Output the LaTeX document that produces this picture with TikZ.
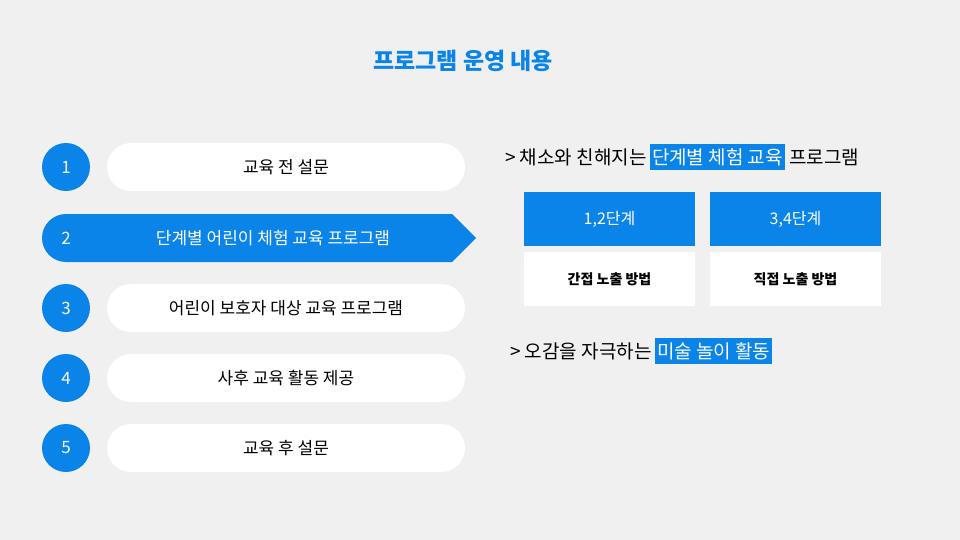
\documentclass[tikz,border=0pt]{standalone}
\usepackage{fontspec}
\setmainfont{Noto Sans CJK KR}
\definecolor{bl}{HTML}{0A84E8}
\definecolor{bg}{HTML}{F0F0F0}
\tikzset{
 num/.style={circle,fill=bl,minimum size=48pt,inner sep=0pt,text=white,font=\fontsize{17}{20}\selectfont},
 pill/.style={rounded corners=24pt,fill=white,minimum width=358pt,minimum height=48pt,font=\fontsize{17}{20}\selectfont},
 hd/.style={fill=bl,text=white,minimum width=171pt,minimum height=54pt,font=\fontsize{16}{18}\selectfont},
 sb/.style={fill=white,minimum width=171pt,minimum height=54pt,font=\bfseries\fontsize{14}{16}\selectfont},
 hl/.style={fill=bl,text=white,inner xsep=2pt,inner ysep=4pt,font=\fontsize{19}{22}\selectfont},
 tx/.style={inner xsep=0pt,inner ysep=4pt,font=\fontsize{19}{22}\selectfont}
}
\begin{document}
\begin{tikzpicture}[x=1pt,y=-1pt]
\fill[bg] (0,0) rectangle (960,540);
\useasboundingbox (0,0) rectangle (960,540);
\node[text=bl,font=\bfseries\fontsize{23}{26}\selectfont] (title) at (463,61) {프로그램 운영 내용};
\fill[bl,rounded corners=24pt] (42,214) -- (300,214) [sharp corners]-- (452,214) -- (476,238) -- (452,262) -- (300,262) [rounded corners=24pt]-- (42,262) -- cycle;
\node[text=white,font=\fontsize{17}{20}\selectfont] (t2) at (273,238) {단계별 어린이 체험 교육 프로그램};
\node[text=white,font=\fontsize{17}{20}\selectfont] (n2) at (66,238) {2};
\foreach \i/\y/\t in {1/167/교육 전 설문,3/308/어린이 보호자 대상 교육 프로그램,4/378/사후 교육 활동 제공,5/448/교육 후 설문}{
 \node[num] (n\i) at (66,\y) {\i};
 \node[pill] (p\i) at (286,\y) {\t};
}
\node[tx,anchor=west] (a1) at (505,157) {> 채소와 친해지는};
\node[hl,anchor=west] (h1) at ([xshift=3pt]a1.east) {단계별 체험 교육};
\node[tx,anchor=west] (a2) at ([xshift=4pt]h1.east) {프로그램};
\node[hd] (b1) at (609.5,219) {1,2단계};
\node[hd] (b2) at (795.5,219) {3,4단계};
\node[sb] (c1) at (609.5,279) {간접 노출 방법};
\node[sb] (c2) at (795.5,279) {직접 노출 방법};
\node[tx,anchor=west] (d1) at (510,351) {> 오감을 자극하는};
\node[hl,anchor=west] (h2) at ([xshift=3pt]d1.east) {미술 놀이 활동};
\end{tikzpicture}
\end{document}
